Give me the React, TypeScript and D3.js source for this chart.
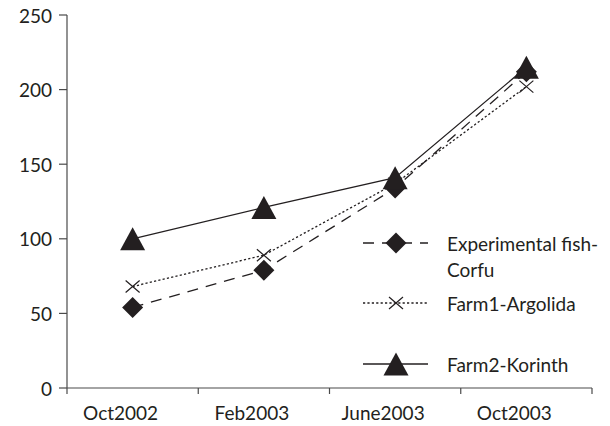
import React from "react";
import * as d3 from "d3";

const categories = ["Oct2002", "Feb2003", "June2003", "Oct2003"];
const corfu = [54, 79, 134, 212];
const argolida = [68, 89, 137, 202];
const korinth = [100, 121, 141, 215];
const yTicks = [0, 50, 100, 150, 200, 250];
const seriesNames = ["Experimental fish-|Corfu", "Farm1-Argolida", "Farm2-Korinth"];

const W = 610;
const H = 426;
const FONT = "Lato, 'Open Sans', sans-serif";
const INK = "#231f20";
const AXIS = "#4a4a4a";

const x = d3.scaleBand<string>().domain(categories).range([67, 592]).padding(0);
const y = d3.scaleLinear().domain([0, 250]).range([388, 15]);

const cx = (c: string) => (x(c) as number) + x.bandwidth() / 2;

const diamond = (r: number) => `M0,${-r}L${r},0L0,${r}L${-r},0Z`;
const triangle = (w: number, h: number) => `M0,${-h / 2}L${w / 2},${h / 2}L${-w / 2},${h / 2}Z`;

type Kind = "diamond" | "x" | "triangle";

function Marker({ kind, tx, ty }: { kind: Kind; tx: number; ty: number }) {
  if (kind === "diamond")
    return <path d={diamond(10.5)} transform={`translate(${tx},${ty})`} fill={INK} />;
  if (kind === "triangle")
    return <path d={triangle(25, 23)} transform={`translate(${tx},${ty})`} fill={INK} />;
  return (
    <path
      d="M-7,-6L7,6M-7,6L7,-6"
      transform={`translate(${tx},${ty})`}
      stroke={INK}
      strokeWidth={1.2}
      fill="none"
    />
  );
}

const series: { values: number[]; kind: Kind; dash: string | undefined }[] = [
  { values: corfu, kind: "diamond", dash: "11,8" },
  { values: argolida, kind: "x", dash: "2.2,2.2" },
  { values: korinth, kind: "triangle", dash: undefined },
];

export default function App() {
  const line = d3
    .line<number>()
    .x((_, i) => cx(categories[i]))
    .y((v) => y(v));

  const legendRows = [243, 303, 364];

  return (
    <svg
      width={W}
      height={H}
      style={{ position: "absolute", left: 0, top: 0, background: "#fff" }}
      fontFamily={FONT}
    >
      <rect width={W} height={H} fill="#fff" />
      {/* y axis */}
      <line x1={67} x2={67} y1={y(250)} y2={y(0)} stroke={AXIS} strokeWidth={1.2} />
      {yTicks.map((t) => (
        <g key={t}>
          <line x1={59} x2={67} y1={y(t)} y2={y(t)} stroke={AXIS} strokeWidth={1.2} />
          <text
            x={52}
            y={y(t)}
            textAnchor="end"
            dominantBaseline="central"
            fontSize={19}
            fill={INK}
          >
            {t}
          </text>
        </g>
      ))}
      {/* x axis */}
      <line x1={67} x2={592} y1={y(0)} y2={y(0)} stroke={AXIS} strokeWidth={1.2} />
      {[...categories.map((c) => x(c) as number), 592].map((p, i) => (
        <line key={i} x1={p} x2={p} y1={y(0)} y2={y(0) + 6} stroke={AXIS} strokeWidth={1.2} />
      ))}
      {categories.map((c) => (
        <text
          key={c}
          x={cx(c) - 12}
          y={412}
          textAnchor="middle"
          dominantBaseline="central"
          fontSize={19}
          fill={INK}
        >
          {c}
        </text>
      ))}
      {/* series */}
      {series.map((s, si) => (
        <g key={si}>
          <path
            d={line(s.values) || ""}
            fill="none"
            stroke={INK}
            strokeWidth={1.3}
            strokeDasharray={s.dash}
          />
          {s.values.map((v, i) => (
            <Marker key={i} kind={s.kind} tx={cx(categories[i])} ty={y(v)} />
          ))}
        </g>
      ))}
      {/* legend */}
      {series.map((s, si) => {
        const ly = legendRows[si];
        const lines = seriesNames[si].split("|");
        return (
          <g key={"lg" + si}>
            <line
              x1={363}
              x2={428}
              y1={ly}
              y2={ly}
              stroke={INK}
              strokeWidth={1.3}
              strokeDasharray={s.dash}
            />
            <rect x={382} y={ly - 12} width={28} height={24} fill="none" />
            <Marker kind={s.kind} tx={396} ty={ly} />
            {lines.map((t, li) => (
              <text
                key={li}
                x={447}
                y={ly + li * 26}
                dominantBaseline="central"
                fontSize={19}
                fill={INK}
              >
                {t}
              </text>
            ))}
          </g>
        );
      })}
    </svg>
  );
}
